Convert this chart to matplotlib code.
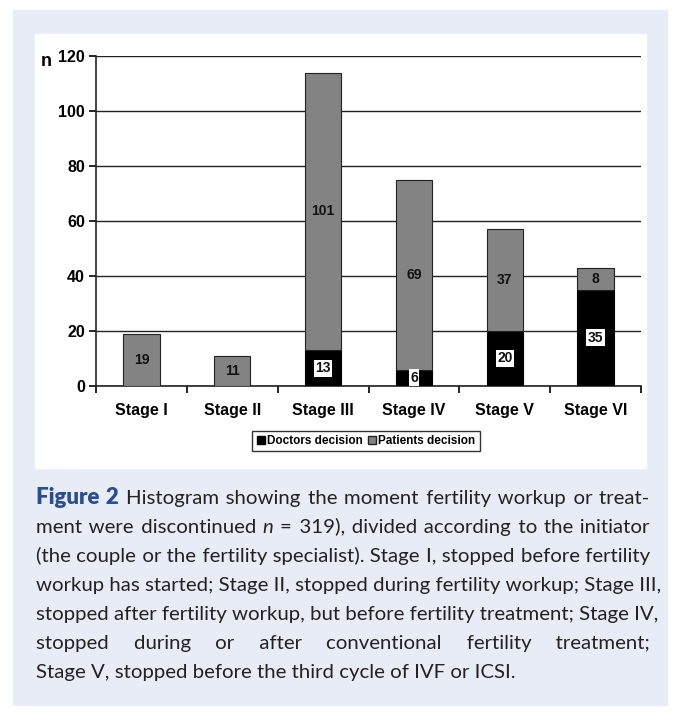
import numpy as np
import matplotlib
matplotlib.use("Agg")
import matplotlib.pyplot as plt
from matplotlib.patches import Rectangle, Patch

W, H = 679, 714

# data
stages = ["Stage I", "Stage II", "Stage III", "Stage IV", "Stage V", "Stage VI"]
doctors = [0, 0, 13, 6, 20, 35]
patients = [19, 11, 101, 69, 37, 8]
yticks = [0, 20, 40, 60, 80, 100, 120]

# caption lines as segments: (text, style)
caption_lines = [
    [("Figure 2", "fig"), ("Histogram showing the moment fertility workup or treat-", "body")],
    [("ment were discontinued", "body"), ("n", "ital"),
     ("= 319), divided according to the initiator", "body")],
    [("(the couple or the fertility specialist). Stage I, stopped before fertility", "body")],
    [("workup has started; Stage II, stopped during fertility workup; Stage III,", "body")],
    [("stopped after fertility workup, but before fertility treatment; Stage IV,", "body")],
    [("stopped during or after conventional fertility treatment;", "body")],
    [("Stage V, stopped before the third cycle of IVF or ICSI.", "body")],
]


def fx(x):
    return x / W


def fy(y):
    return 1 - y / H


fig = plt.figure(figsize=(W / 100, H / 100), dpi=100)
fig.patch.set_facecolor("white")

# lavender panel and white chart box
fig.add_artist(Rectangle((fx(13), fy(705)), fx(667) - fx(13), fy(10) - fy(705),
                         transform=fig.transFigure, color="#e8ecf6", zorder=0))
fig.add_artist(Rectangle((fx(35), fy(468)), fx(646) - fx(35), fy(34) - fy(468),
                         transform=fig.transFigure, color="white", zorder=0))

ax = fig.add_axes([fx(96), fy(386), fx(641) - fx(96), fy(56) - fy(386)])
ax.set_facecolor("none")

x = np.arange(len(stages))
bw = 0.4
ax.bar(x, doctors, bw, color="black", edgecolor="black", linewidth=0.8, zorder=3,
       label="Doctors decision")
ax.bar(x, patients, bw, bottom=doctors, color="#838383", edgecolor="#222222",
       linewidth=0.8, zorder=3, label="Patients decision")

for i in range(len(stages)):
    if patients[i]:
        ax.text(x[i], doctors[i] + patients[i] / 2, str(patients[i]), ha="center",
                va="center", fontsize=10, fontweight="bold", color="#111111",
                family="Liberation Sans", zorder=4)
    if doctors[i]:
        ax.text(x[i], doctors[i] / 2, str(doctors[i]), ha="center", va="center",
                fontsize=10, fontweight="bold", color="#111111", family="Liberation Sans",
                zorder=4, bbox=dict(facecolor="white", edgecolor="none", pad=1.0))

ax.set_xlim(-0.5, len(stages) - 0.5)
ax.set_ylim(0, 120)
ax.set_yticks(yticks)
ax.set_yticklabels([str(v) for v in yticks], fontsize=11.5, fontweight="bold",
                   family="Liberation Sans")
ax.set_xticks(x)
ax.set_xticklabels(stages, fontsize=11.5, fontweight="bold", family="Liberation Sans")
ax.set_xticks(np.arange(len(stages) + 1) - 0.5, minor=True)
ax.tick_params(axis="x", which="major", length=0, pad=12)
ax.tick_params(axis="x", which="minor", length=5, width=1.2, direction="out")
ax.tick_params(axis="y", length=5, width=1.2, direction="out", pad=3)
ax.yaxis.grid(True, color="#222222", linewidth=1.0, zorder=0)
ax.set_axisbelow(True)
for s in ["top", "right"]:
    ax.spines[s].set_visible(False)
for s in ["left", "bottom"]:
    ax.spines[s].set_linewidth(1.2)
    ax.spines[s].set_color("#222222")

fig.text(fx(46), fy(61), "n", fontsize=13, fontweight="bold", family="Liberation Sans",
         ha="center", va="center")

handles = [Patch(facecolor="black", edgecolor="black"),
           Patch(facecolor="#838383", edgecolor="#222222")]
leg = fig.legend(handles, ["Doctors decision", "Patients decision"], ncol=2,
                 loc="center", bbox_to_anchor=(fx(366), fy(441)), frameon=True,
                 fancybox=False, edgecolor="black", handlelength=0.7, handleheight=0.7,
                 handletextpad=0.2, columnspacing=0.4, borderpad=0.35,
                 prop=dict(family="Liberation Sans", weight="bold", size=8.5))
leg.get_frame().set_linewidth(1.0)

# caption: one text per segment, justified by padding spaces with hair spaces
cap_fam = ["Lato", "DejaVu Sans"]
cap_size = 14.7
left, right = 36, 650
base0, dy = 504, 29
HAIR = "\u200a"
renderer = fig.canvas.get_renderer()
styles = {
    "body": dict(fontsize=cap_size, color="#222222"),
    "ital": dict(fontsize=cap_size, color="#222222", fontstyle="italic"),
    "fig": dict(fontsize=16, color="#2a4d8f", fontweight="heavy"),
}


def width(s, style="body"):
    t = fig.text(0, 0, s, family=cap_fam, **styles[style])
    w = t.get_window_extent(renderer).width
    t.remove()
    return w


sp_w = width("a b") - width("ab")
hair_w = (width("a" + HAIR * 20 + "b") - width("ab")) / 20

for li, segs in enumerate(caption_lines):
    base = base0 + li * dy
    last = li == len(caption_lines) - 1
    seg_words = [s.split(" ") for s, _ in segs]
    natural = sum(width(s, st) for s, st in segs) + sp_w * (len(segs) - 1)
    ngaps = sum(len(ws) - 1 for ws in seg_words) + len(segs) - 1
    extra = 0 if last else (right - left - natural) / ngaps
    # hair-space counts for each gap, spread by cumulative rounding
    counts = [int(round((g + 1) * extra / hair_w) - round(g * extra / hair_w))
              for g in range(ngaps)]
    g = 0
    pos = left
    for si, ((_, st), ws) in enumerate(zip(segs, seg_words)):
        s = ws[0]
        for w in ws[1:]:
            s += " " + HAIR * counts[g] + w
            g += 1
        t = fig.text(fx(pos), fy(base), s, family=cap_fam, va="baseline", ha="left",
                     **styles[st])
        pos += t.get_window_extent(renderer).width
        if si < len(segs) - 1:
            pos += sp_w + counts[g] * hair_w
            g += 1

fig.savefig("out.png", dpi=100)
